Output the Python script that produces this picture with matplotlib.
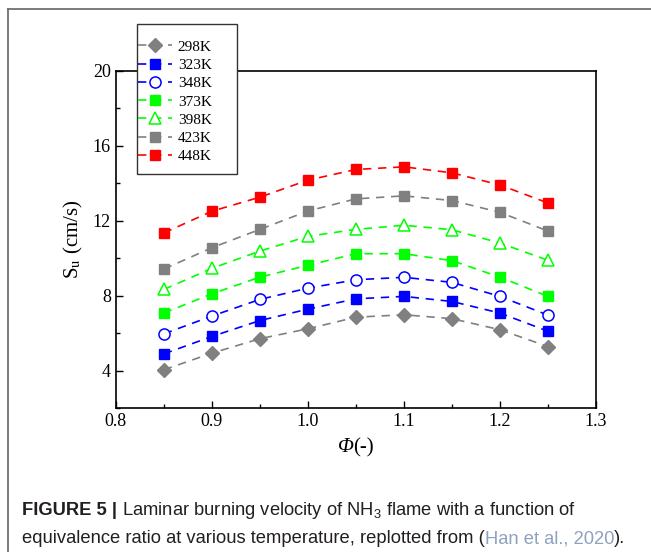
#!/usr/bin/env python3
"""Laminar burning velocity of NH3 vs equivalence ratio at several temperatures"""

import matplotlib
matplotlib.use('Agg')
import matplotlib.pyplot as plt
from matplotlib.lines import Line2D
from matplotlib.patches import Rectangle
from matplotlib.ticker import MultipleLocator

# datos
phi = [0.85, 0.90, 0.95, 1.00, 1.05, 1.10, 1.15, 1.20, 1.25]
temps = ['298K', '323K', '348K', '373K', '398K', '423K', '448K']
su_298 = [4.04, 4.93, 5.70, 6.23, 6.85, 6.98, 6.77, 6.18, 5.28]
su_323 = [4.89, 5.82, 6.67, 7.28, 7.83, 7.96, 7.69, 7.07, 6.10]
su_348 = [5.96, 6.91, 7.80, 8.40, 8.85, 8.98, 8.71, 7.96, 6.96]
su_373 = [7.07, 8.10, 8.99, 9.62, 10.24, 10.24, 9.87, 8.99, 7.96]
su_398 = [8.33, 9.46, 10.38, 11.17, 11.54, 11.76, 11.52, 10.81, 9.89]
su_423 = [9.42, 10.56, 11.54, 12.52, 13.17, 13.33, 13.08, 12.45, 11.45]
su_448 = [11.35, 12.51, 13.26, 14.17, 14.74, 14.88, 14.56, 13.91, 12.95]
series = [su_298, su_323, su_348, su_373, su_398, su_423, su_448]

colors = ['#808080', '#0000ff', '#0000ff', '#00ff00', '#00ff00', '#808080', '#ff0000']
markers = ['D', 's', 'o', 's', '^', 's', 's']
filled = [True, True, False, True, False, True, True]
msizes = [7.5, 7.5, 8, 7.5, 9, 7.5, 7.5]

serif = 'Liberation Serif'
sans = 'Liberation Sans'

# mathtext propio para el subindice del pie (sans)
plt.rcParams['mathtext.rm'] = sans

fig = plt.figure(figsize=(6.51, 5.52), dpi=100)
ax = fig.add_axes([0.178, 0.2609, 0.7375, 0.6105])

for y, c, m, f, ms, lab in zip(series, colors, markers, filled, msizes, temps):
    ax.plot(phi, y, linestyle=(0, (5, 4)), color=c, linewidth=1.2,
            marker=m, markersize=ms, markerfacecolor=c if f else 'white',
            markeredgecolor=c, markeredgewidth=1.0 if f else 1.1, label=lab)

ax.set_xlim(0.8, 1.3)
ax.set_ylim(2, 20)
ax.xaxis.set_minor_locator(MultipleLocator(0.05))
ax.yaxis.set_major_locator(MultipleLocator(4))
ax.yaxis.set_minor_locator(MultipleLocator(2))
ax.set_xticks([0.8, 0.9, 1.0, 1.1, 1.2, 1.3])
ax.set_xticklabels(['0.8', '0.9', '1.0', '1.1', '1.2', '1.3'])
ax.tick_params(which='both', direction='in', top=False, right=False,
               labelsize=13, width=1.0)
ax.tick_params(which='major', length=5)
ax.tick_params(which='minor', length=3)
for lbl in ax.get_xticklabels() + ax.get_yticklabels():
    lbl.set_fontfamily(serif)
for sp in ax.spines.values():
    sp.set_linewidth(1.2)
    sp.set_color('black')

ax.set_ylabel(r'S$_\mathrm{u}$ (cm/s)', fontsize=15, family=serif,
              math_fontfamily='stix', labelpad=6)

renderer = fig.canvas.get_renderer()

# etiqueta x: Phi en italica + "(-)" en redonda
xl_y = 1 - 452 / 552
t_phi = fig.text(0, xl_y, 'Φ', fontsize=15, family=serif, style='italic',
                 va='baseline', ha='left')
t_rest = fig.text(0, xl_y, '(-)', fontsize=15, family=serif,
                  va='baseline', ha='left')
w_phi = t_phi.get_window_extent(renderer).width / fig.bbox.width
w_rest = t_rest.get_window_extent(renderer).width / fig.bbox.width
x_mid = 0.178 + 0.7375 / 2
t_phi.set_x(x_mid - (w_phi + w_rest) / 2)
t_rest.set_x(x_mid - (w_phi + w_rest) / 2 + w_phi)

# leyenda: marco dibujado aparte (mas ancho y alto que el contenido)
fig.add_artist(Rectangle((137 / 651, 1 - 174 / 552), 100 / 651, 150 / 552,
                         transform=fig.transFigure, facecolor='white',
                         edgecolor='#333333', linewidth=1.0, zorder=5))
leg = fig.legend(loc='upper left', bbox_to_anchor=(138 / 651, 1 - 40 / 552),
                 prop={'family': serif, 'size': 11}, frameon=False,
                 handlelength=2.2, handletextpad=0.4, labelspacing=0.3,
                 borderpad=0.0, borderaxespad=0)
leg.set_zorder(6)

# marco gris de la pagina
fig.add_artist(Line2D([8 / 651, 8 / 651], [0, 1 - 9 / 552], color='#707070',
                      linewidth=1.3, transform=fig.transFigure))
fig.add_artist(Line2D([8 / 651, 1], [1 - 9 / 552, 1 - 9 / 552], color='#707070',
                      linewidth=1.3, transform=fig.transFigure))


# pie de figura
def draw_line(x, y, parts):
    for txt, kw in parts:
        t = fig.text(x, y, txt, va='baseline', ha='left', fontsize=13.2,
                     family=sans, math_fontfamily='custom', **kw)
        x += t.get_window_extent(renderer).width / fig.bbox.width


dark = '#231f20'
draw_line(22 / 651, 1 - 515 / 552, [
    ('FIGURE 5 | ', dict(color=dark, fontweight='bold')),
    (r'Laminar burning velocity of NH$_\mathrm{3}$ flame with a function of',
     dict(color=dark)),
])
draw_line(22 / 651, 1 - 543 / 552, [
    ('equivalence ratio at various temperature, replotted from (', dict(color=dark)),
    ('Han et al., 2020', dict(color='#8ea2bf')),
    (').', dict(color=dark)),
])

fig.savefig('out.png', dpi=100)
plt.close(fig)
